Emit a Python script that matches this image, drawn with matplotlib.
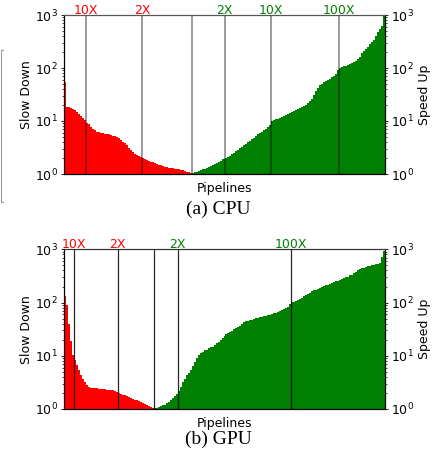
import numpy as np
import matplotlib
matplotlib.use("Agg")
import matplotlib.pyplot as plt
from matplotlib.lines import Line2D

# ---------------- data (sorted per-pipeline ratios) ----------------
cpu_slowdown = [55, 18, 18, 17.8, 17, 16, 15, 13.5, 12.5, 11.5, 10.5,
                9.3, 8.8, 7.8, 7.2, 6.7, 6.3, 6.1, 6.0, 5.9, 5.8, 5.7, 5.6,
                5.5, 5.3, 5.1, 4.9, 4.7, 4.4, 4.1, 3.8, 3.5, 3.1, 2.8, 2.6,
                2.4, 2.3, 2.2, 2.08, 1.98, 1.9, 1.85, 1.78, 1.72, 1.66, 1.6,
                1.55, 1.5, 1.45, 1.41, 1.37, 1.34, 1.32, 1.30, 1.28, 1.26,
                1.24, 1.22, 1.20, 1.18, 1.15, 1.11, 1.07, 1.04]
cpu_speedup = [1.04, 1.075, 1.11, 1.15, 1.19, 1.22, 1.26, 1.30, 1.35, 1.41,
               1.47, 1.53, 1.60, 1.67, 1.77, 1.89, 2.02, 2.12, 2.23, 2.37,
               2.52, 2.69, 2.86, 3.03, 3.22, 3.46, 3.71, 3.99, 4.23, 4.54,
               4.88, 5.25, 5.60, 5.93, 6.33, 6.71, 7.21, 7.75, 8.45, 10.1,
               10.4, 10.8, 11.1, 11.4, 11.7, 12.2, 12.7, 13.3, 13.9, 14.6,
               15.4, 16.2, 17.0, 17.8, 18.7, 19.5, 20.4, 22.2, 24.2, 25.6,
               31.4, 37.3, 42.5, 47.0, 50.5, 54.3, 56.7, 59.2, 62.7, 66.9,
               71.9, 76.7, 92, 101, 104.5, 107.6, 110.8, 114.8, 119.9, 125.3,
               131.8, 138.5, 147.8, 164.8, 190.3, 207.4, 229.5, 254, 281, 311,
               344, 408, 472, 537, 612, 950]
gpu_slowdown = [135, 88, 40, 19, 10.5, 8.5, 6.6, 5.3, 4.4, 3.7, 3.2, 2.8,
                2.6, 2.5, 2.48, 2.46, 2.44, 2.42, 2.40, 2.37, 2.34, 2.32,
                2.30, 2.28, 2.25, 2.2, 2.1, 1.98, 1.93, 1.87, 1.80, 1.72,
                1.65, 1.60, 1.56, 1.50, 1.45, 1.40, 1.35, 1.30, 1.25, 1.20,
                1.15, 1.09, 1.04]
gpu_speedup = [1.03, 1.05, 1.09, 1.13, 1.17, 1.21, 1.27, 1.35, 1.45, 1.59,
               1.74, 1.91, 2.21, 2.60, 3.17, 3.74, 4.26, 4.75, 5.40, 6.55,
               7.79, 9.10, 10.2, 11.2, 11.9, 12.6, 13.1, 13.7, 14.3, 14.9,
               15.9, 17.1, 18.5, 20.0, 21.7, 23.4, 25.3, 26.8, 28.2, 29.7,
               31.3, 33.0, 34.7, 36.7, 39.5, 42.7, 44.3, 45.4, 46.5, 47.6,
               49.0, 50.3, 51.6, 52.9, 53.8, 54.7, 55.7, 57.3, 58.9, 60.6,
               62.4, 64.2, 66.8, 69.8, 72.9, 76.3, 80.0, 83.9, 92, 100.5,
               103, 107, 111, 116, 122, 130, 137, 145, 154, 162,
               169, 175, 180, 186, 193, 201, 209, 217, 224, 232,
               240, 249, 258, 267, 276, 286, 296, 308, 322, 336,
               355, 379, 404, 429, 442, 455, 469, 480, 491, 501,
               512, 522, 534, 561, 707, 916]

cpu_slow_marks = [10, 2]
cpu_speed_marks = [2, 10, 100]
gpu_slow_marks = [10, 2]
gpu_speed_marks = [2, 100]

captions = ["(a) CPU", "(b) GPU"]
x_label = "Pipelines"
left_label = "Slow Down"
right_label = "Speed Up"

RED = "#ff0000"
GREEN = "#008000"

W, H = 442, 455
fig = plt.figure(figsize=(W / 100, H / 100), dpi=100)


def px_rect(left, top, right, bottom):
    return [left / W, 1 - bottom / H, (right - left) / W, (bottom - top) / H]


def panel(rect, slow, speed, slow_marks, speed_marks, caption, cap_xy,
          lcolor, lalpha, lw, top_color):
    ax = fig.add_axes(rect)
    slow = np.asarray(slow, dtype=float)
    speed = np.asarray(speed, dtype=float)
    ns, nf = len(slow), len(speed)
    xs = np.arange(ns)
    xf = np.arange(ns, ns + nf)
    ax.bar(xs, slow - 1, bottom=1, width=1, align="edge", color=RED,
           linewidth=0, antialiased=False, zorder=1)
    ax.bar(xf, speed - 1, bottom=1, width=1, align="edge", color=GREEN,
           linewidth=0, antialiased=False, zorder=1)
    ax.set_yscale("log")
    ax.set_ylim(1, 1000)
    ax.set_xlim(0, ns + nf)
    ax.set_xticks([])

    lines = []
    for t in slow_marks:
        lines.append((int(np.sum(slow > t)), f"{t}X", RED))
    for t in speed_marks:
        lines.append((ns + int(np.argmax(speed >= t)), f"{t}X", GREEN))
    for pos, lab, col in lines:
        ax.axvline(pos, color=lcolor, alpha=lalpha, lw=lw, zorder=3)
        ax.annotate(lab, xy=(pos, 1), xycoords=("data", "axes fraction"),
                    xytext=(0, 0.6), textcoords="offset points",
                    ha="center", va="baseline", color=col, fontsize=9,
                    annotation_clip=False)
    ax.axvline(ns, color=lcolor, alpha=lalpha, lw=lw, zorder=3)

    for s in ax.spines.values():
        s.set_linewidth(0.8)
        s.set_zorder(4)
    ax.spines["top"].set_color(top_color)
    ax.tick_params(axis="y", which="major", length=2.5, width=0.6,
                   labelsize=9, pad=2)
    ax.tick_params(axis="y", which="minor", length=1.5, width=0.5)
    ax.set_ylabel(left_label, fontsize=9, labelpad=1.5)
    ax.set_xlabel(x_label, fontsize=9, labelpad=6)

    ax2 = ax.twinx()
    ax2.set_yscale("log")
    ax2.set_ylim(1, 1000)
    ax2.tick_params(axis="y", which="major", length=2.5, width=0.6,
                    labelsize=9, pad=2)
    ax2.tick_params(axis="y", which="minor", length=1.5, width=0.5)
    ax2.set_ylabel(right_label, fontsize=9, labelpad=2.5)
    for s in ax2.spines.values():
        s.set_linewidth(0.8)
    ax2.spines["top"].set_color(top_color)

    fig.text(cap_xy[0] / W, 1 - cap_xy[1] / H, caption, ha="center",
             va="center", family="Liberation Serif", fontsize=14)
    return ax


panel(px_rect(64, 15, 385, 174), cpu_slowdown, cpu_speedup,
      cpu_slow_marks, cpu_speed_marks, captions[0], (218.5, 209),
      "black", 0.5, 1.1, "#555555")
panel(px_rect(64, 249.3, 385, 409), gpu_slowdown, gpu_speedup,
      gpu_slow_marks, gpu_speed_marks, captions[1], (218.5, 439),
      "black", 0.85, 0.9, "#333333")

# thin bracket fragment at the left edge of the reference image
fig.add_artist(Line2D([3 / W, 1 / W, 1 / W, 3 / W],
                      [1 - 50 / H, 1 - 50 / H, 1 - 202 / H, 1 - 202 / H],
                      color="#9a9a9a", lw=0.8))

fig.savefig("out.png", dpi=100)
